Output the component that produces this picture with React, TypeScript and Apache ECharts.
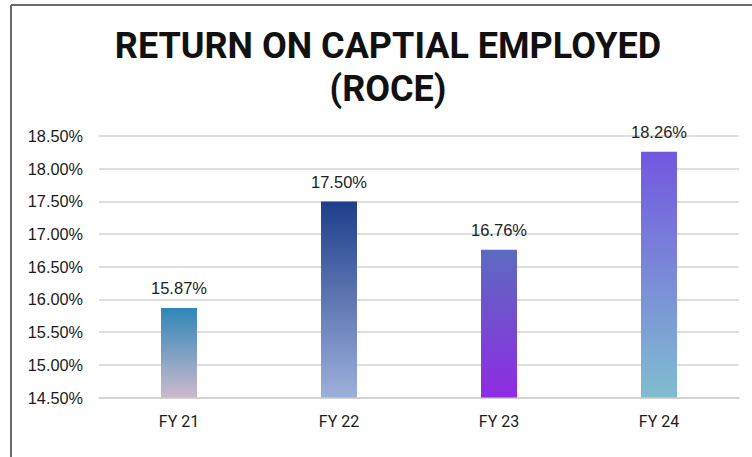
import React, { useEffect, useRef } from "react";
import * as echarts from "echarts";

const categories = ["FY 21", "FY 22", "FY 23", "FY 24"];
const roceValues = [15.87, 17.5, 16.76, 18.26];
const yTicks = { min: 14.5, max: 18.5, interval: 0.5 };
const barGradients = [
  ["#2E86B8", "#CDB9CD"],
  ["#1F3E8A", "#9DB0DC"],
  ["#5C6BC0", "#8F2BE3"],
  ["#7357E0", "#80BDD0"],
];

export default function App() {
  const ref = useRef<HTMLDivElement>(null);
  useEffect(() => {
    if (!ref.current) return;
    const chart = echarts.init(ref.current, undefined, { renderer: "svg" });
    chart.setOption({
      animation: false,
      backgroundColor: "#ffffff",
      title: {
        text: "RETURN ON CAPTIAL EMPLOYED\n(ROCE)",
        left: 388,
        top: 24,
        padding: 0,
        textAlign: "center",
        textStyle: {
          fontFamily: "Roboto, sans-serif",
          fontWeight: "bold",
          fontSize: 36,
          lineHeight: 43,
          color: "#111111",
        },
      },
      graphic: [
        { type: "line", shape: { x1: 11, y1: 5, x2: 752, y2: 5 }, style: { stroke: "#6b6b6b", lineWidth: 2 } },
        { type: "line", shape: { x1: 11, y1: 5, x2: 11, y2: 457 }, style: { stroke: "#6b6b6b", lineWidth: 2 } },
      ],
      grid: { left: 99, right: 13, top: 136, bottom: 59.5 },
      xAxis: {
        type: "category",
        data: categories,
        axisLine: { show: true, lineStyle: { color: "#cfcfcf", width: 1.5 } },
        axisTick: { show: false },
        axisLabel: {
          margin: 16,
          fontFamily: "Roboto, sans-serif",
          fontSize: 16,
          color: "#1a1a1a",
        },
      },
      yAxis: {
        type: "value",
        min: yTicks.min,
        max: yTicks.max,
        interval: yTicks.interval,
        axisLine: { show: false },
        axisTick: { show: false },
        splitLine: { lineStyle: { color: "#d3d3d3", width: 1.5 } },
        axisLabel: {
          margin: 16,
          formatter: (v: number) => v.toFixed(2) + "%",
          fontFamily: "'Liberation Sans', Arial, sans-serif",
          fontSize: 16.3,
          color: "#1a1a1a",
        },
      },
      series: [
        {
          type: "bar",
          barWidth: 36,
          data: roceValues.map((v, i) => ({
            value: v,
            itemStyle: {
              color: new echarts.graphic.LinearGradient(0, 0, 0, 1, [
                { offset: 0, color: barGradients[i][0] },
                { offset: 1, color: barGradients[i][1] },
              ]),
            },
          })),
          label: {
            show: true,
            position: "top",
            distance: 11,
            formatter: (p: any) => p.value.toFixed(2) + "%",
            fontFamily: "'Liberation Sans', Arial, sans-serif",
            fontSize: 16.5,
            color: "#222222",
          },
        },
      ],
    });
    return () => chart.dispose();
  }, []);
  return (
    <div
      ref={ref}
      style={{ position: "absolute", left: 0, top: 0, width: 752, height: 457 }}
    />
  );
}
